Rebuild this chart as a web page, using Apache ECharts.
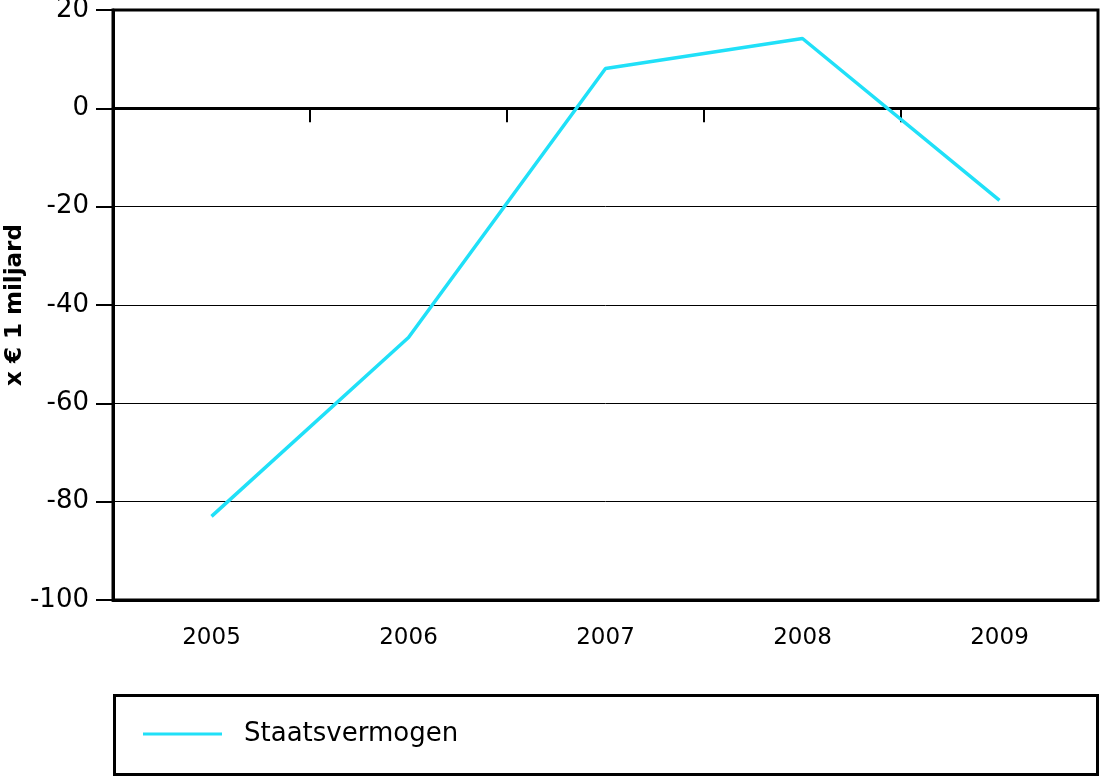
<!DOCTYPE html>
<html><head><meta charset="utf-8">
<script src="https://cdn.jsdelivr.net/npm/echarts@6/dist/echarts.min.js"></script>
<style>html,body{margin:0;padding:0;background:#fff}#c{width:1100px;height:776px}</style>
</head><body><div id="c"></div>
<script>
const categories = ['2005','2006','2007','2008','2009'];
const staatsvermogen = [-83, -46.6, 8.1, 14.2, -18.7];
const seriesName = 'Staatsvermogen';
const yTitle = 'x € 1 miljard';
const FONT = '"DejaVu Sans", sans-serif';

const chart = echarts.init(document.getElementById('c'));
chart.setOption({
  animation: false,
  backgroundColor: '#fff',
  grid: { left: 113, right: 2, top: 10, bottom: 176, outerBoundsMode: 'none', containLabel: false,
          show: true, borderColor: '#000', borderWidth: 3 },
  xAxis: [
    { type: 'category', data: categories, boundaryGap: true,
      axisLine: { onZero: true, lineStyle: { color: '#000', width: 3 } },
      axisTick: { show: true, length: 14, lineStyle: { color: '#000', width: 2 } },
      axisLabel: { show: false }, splitLine: { show: false } },
    { type: 'category', data: categories, boundaryGap: true, position: 'bottom',
      axisLine: { onZero: false, lineStyle: { color: '#000', width: 3 } },
      axisTick: { show: false },
      axisLabel: { color: '#000', fontSize: 23, fontFamily: FONT, margin: 27 } }
  ],
  yAxis: {
    type: 'value', min: -100, max: 20, interval: 20,
    name: yTitle, nameLocation: 'middle', nameRotate: 90, nameGap: 86, nameMoveOverlap: false,
    nameTextStyle: { color: '#000', fontSize: 23, fontWeight: 'bold', fontFamily: FONT },
    axisLine: { show: true, lineStyle: { color: '#000', width: 3 } },
    axisTick: { show: true, length: 17, lineStyle: { color: '#000', width: 2 } },
    axisLabel: { color: '#000', fontSize: 26, fontFamily: FONT, margin: 24 },
    splitLine: { show: true, lineStyle: { color: '#000', width: 1 } }
  },
  legend: {
    left: 143, top: 721, padding: 0,
    icon: 'rect', itemWidth: 79, itemHeight: 3,
    textStyle: { color: '#000', fontSize: 26, fontFamily: FONT, padding: [0, 0, 0, 17] },
    data: [seriesName]
  },
  graphic: [
    { type: 'rect', left: 112, top: 693, shape: { width: 983, height: 79 },
      style: { fill: 'none', stroke: '#000', lineWidth: 3 }, z: -1 }
  ],
  series: [{
    name: seriesName, type: 'line', xAxisIndex: 0, data: staatsvermogen,
    showSymbol: false, symbol: 'none',
    lineStyle: { color: '#20E0F8', width: 3.5 }, itemStyle: { color: '#20E0F8' }
  }]
});
</script></body></html>
